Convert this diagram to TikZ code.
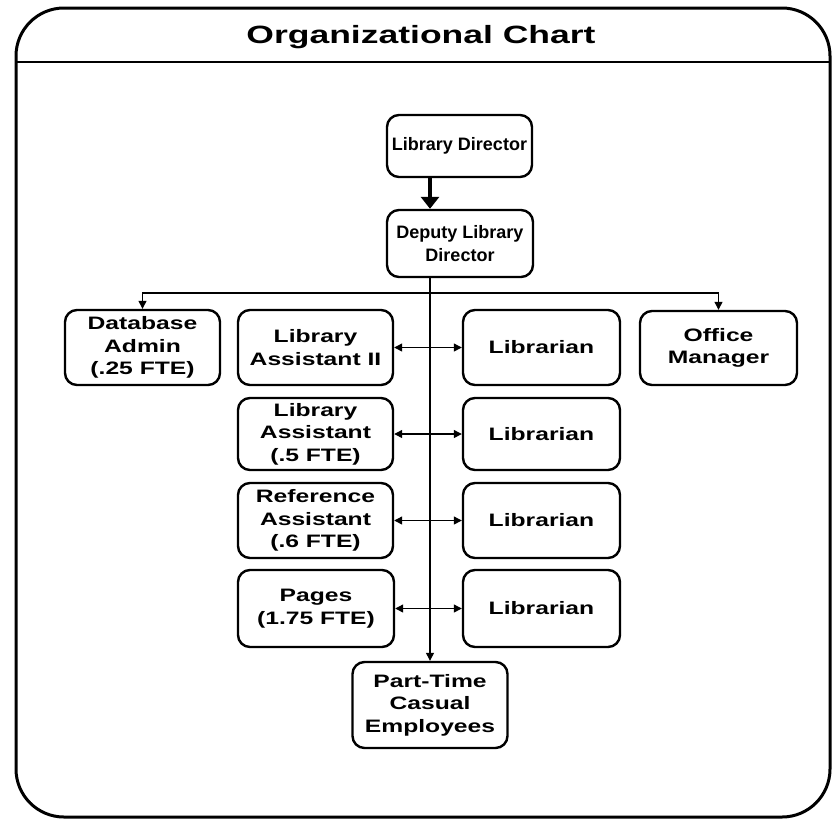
\documentclass[tikz,border=0pt]{standalone}
\usepackage{fontspec}
\usetikzlibrary{arrows.meta}
\newfontfamily\plainfont{Liberation Sans}
\newfontfamily\widefont[FakeStretch=1.37]{Liberation Sans}
\newfontfamily\titlefont[FakeStretch=1.42]{Liberation Sans}
\tikzset{
  box/.style={draw, line width=2.4pt, rounded corners=12pt, align=center,
    inner sep=0pt, font=\widefont\bfseries\fontsize{18}{22.5}\selectfont},
  topbox/.style={box, font=\plainfont\bfseries\fontsize{18}{22.5}\selectfont},
  conn/.style={line width=1.2pt, -{Triangle[length=8pt,width=8pt]}},
  twoway/.style={line width=1.2pt, {Triangle[length=8pt,width=8pt]}-{Triangle[length=8pt,width=8pt]}},
  heavy/.style={line width=3.5pt, -{Triangle[length=12pt,width=18pt]}}
}
\begin{document}
\begin{tikzpicture}[x=1pt,y=-1pt]
\useasboundingbox (0,0) rectangle (835,820);

% outer frame with title band
\draw[line width=3pt, rounded corners=48pt] (16,8) rectangle (830,817);
\draw[line width=2.5pt] (16,62) -- (830,62);
\node[font=\titlefont\bfseries\fontsize{25}{30}\selectfont] (title) at (421,37) {Organizational Chart};

% top of the hierarchy
\node[topbox, minimum width=145pt, minimum height=62pt] (dir) at (459.5,146) {Library Director};
\node[topbox, minimum width=146pt, minimum height=67pt] (dep) at (460,243.5) {Deputy Library\\Director};

% second level
\node[box, minimum width=155pt, minimum height=75pt] (dba) at (142.5,347.5) {Database\\Admin\\(.25 FTE)};
\node[box, minimum width=155pt, minimum height=75pt] (la2) at (315.5,347.5) {Library\\Assistant II};
\node[box, minimum width=157pt, minimum height=75pt] (lib1) at (541.5,347.5) {Librarian};
\node[box, minimum width=157pt, minimum height=74pt] (ofm) at (718.5,348) {Office\\Manager};

\node[box, minimum width=155pt, minimum height=72pt] (la5) at (315.5,434) {Library\\Assistant\\(.5 FTE)};
\node[box, minimum width=157pt, minimum height=72pt] (lib2) at (541.5,434) {Librarian};

\node[box, minimum width=155pt, minimum height=75pt] (ref) at (315.5,520.5) {Reference\\Assistant\\(.6 FTE)};
\node[box, minimum width=157pt, minimum height=75pt] (lib3) at (541.5,520.5) {Librarian};

\node[box, minimum width=156pt, minimum height=77pt] (pag) at (316,608.5) {Pages\\(1.75 FTE)};
\node[box, minimum width=157pt, minimum height=77pt] (lib4) at (541.5,608.5) {Librarian};

\node[box, minimum width=155pt, minimum height=86pt] (pt) at (430,705) {Part-Time\\Casual\\Employees};

% connectors
\draw[heavy] (dir.south -| pt.north) -- (dep.north -| pt.north);
\draw[conn] (dep.south -| pt.north) -- (pt.north);
\coordinate (bar) at (430,293);
\draw[conn] (bar) -| (dba.north);
\draw[conn] (bar) -| (ofm.north);

\draw[twoway] (la2.east) -- (lib1.west);
\draw[twoway] (la5.east) -- (lib2.west);
\draw[twoway] (ref.east) -- (lib3.west);
\draw[twoway] (pag.east) -- (lib4.west);
\end{tikzpicture}
\end{document}
